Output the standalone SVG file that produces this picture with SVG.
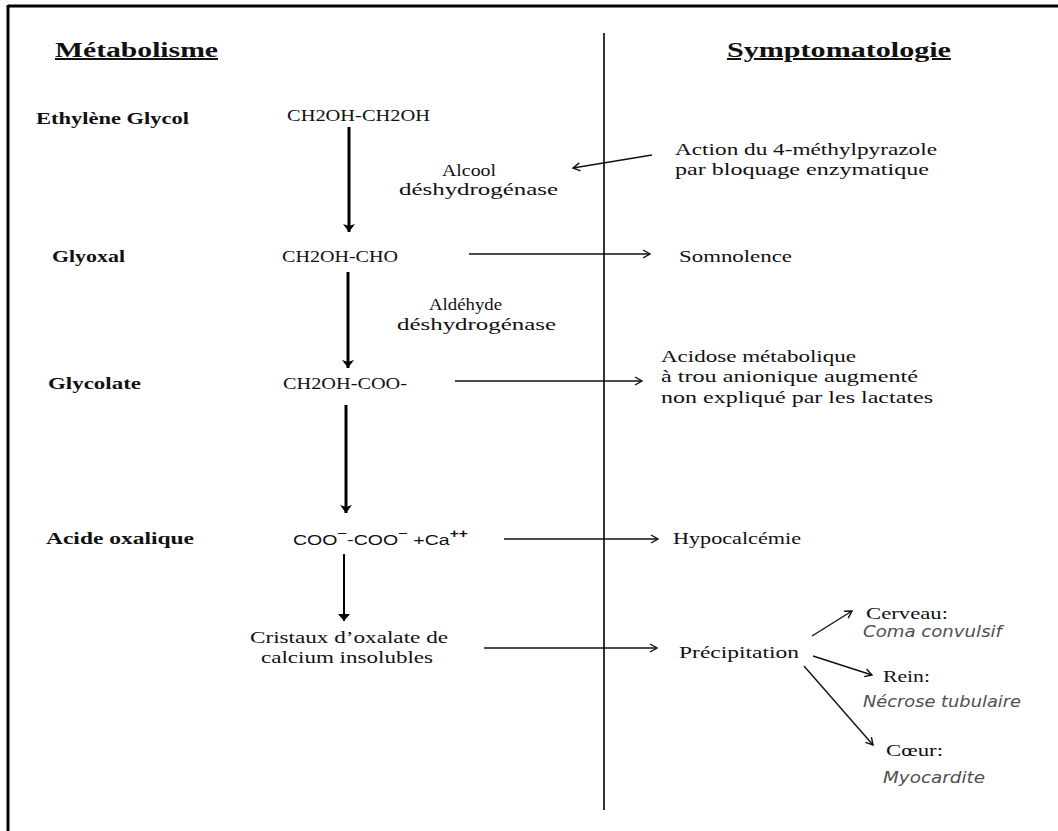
<svg xmlns="http://www.w3.org/2000/svg" width="1058" height="831" viewBox="0 0 1058 831">
<style>
.t{font-family:"Liberation Serif","DejaVu Serif",serif;font-size:17px;fill:#111}
.b{font-family:"Liberation Serif","DejaVu Serif",serif;font-size:17px;font-weight:bold;fill:#111}
.h{font-family:"Liberation Serif","DejaVu Serif",serif;font-size:20px;font-weight:bold;fill:#111;text-decoration:underline}
.i{font-family:"DejaVu Sans","Liberation Sans",sans-serif;font-size:15px;font-style:italic;fill:#505050}
.s{font-family:"Liberation Sans","DejaVu Sans",sans-serif;font-size:15px;fill:#111}
.thick{stroke:#000;stroke-width:3;fill:none}
.thin{stroke:#111;stroke-width:1.4;fill:none}
</style>
<defs>
<marker id="mThick" markerUnits="userSpaceOnUse" viewBox="-1 -7 11 14" refX="8" refY="0" markerWidth="11" markerHeight="14" orient="auto">
<path d="M0,-6 L8,0 L0,6 L2,0 z" fill="#000"/>
</marker>
<marker id="mFill" markerUnits="userSpaceOnUse" viewBox="-1 -7 10 14" refX="7" refY="0" markerWidth="10" markerHeight="14" orient="auto">
<path d="M0,-6 L7,0 L0,6 z" fill="#000"/>
</marker>
<marker id="mOpen" markerUnits="userSpaceOnUse" viewBox="-9 -6 11 12" refX="0" refY="0" markerWidth="11" markerHeight="12" orient="auto">
<path d="M-7,-4 L0,0 L-7,4" fill="none" stroke="#111" stroke-width="1.4"/>
</marker>
</defs>
<rect width="1058" height="831" fill="#fff"/>
<g id="frame">
<line x1="8" y1="6" x2="1058" y2="6" stroke="#000" stroke-width="3"/>
<line x1="8" y1="5" x2="8" y2="831" stroke="#000" stroke-width="3"/>
<line x1="604" y1="33" x2="604" y2="810" stroke="#333" stroke-width="2"/>
</g>
<g id="headers">
<text class="h" x="55" y="57" textLength="163" lengthAdjust="spacingAndGlyphs">Métabolisme</text>
<text class="h" x="727" y="57" textLength="224" lengthAdjust="spacingAndGlyphs">Symptomatologie</text>
</g>
<g id="connectors">
<line class="thick" x1="349" y1="127" x2="349" y2="232" marker-end="url(#mThick)"/>
<line class="thick" x1="348" y1="272" x2="348" y2="368" marker-end="url(#mThick)"/>
<line class="thick" x1="346" y1="405" x2="346" y2="513" marker-end="url(#mThick)"/>
<line x1="344" y1="554" x2="344" y2="621" stroke="#000" stroke-width="2" marker-end="url(#mFill)"/>
<line class="thin" x1="652" y1="155" x2="573" y2="168" marker-end="url(#mOpen)"/>
<line class="thin" x1="469" y1="254" x2="650" y2="254" marker-end="url(#mOpen)"/>
<line class="thin" x1="455" y1="381" x2="642" y2="381" marker-end="url(#mOpen)"/>
<line class="thin" x1="504" y1="539" x2="658" y2="539" marker-end="url(#mOpen)"/>
<line class="thin" x1="484" y1="648" x2="657" y2="648" marker-end="url(#mOpen)"/>
<line class="thin" x1="812" y1="636" x2="852" y2="611" marker-end="url(#mOpen)"/>
<line class="thin" x1="813" y1="656" x2="872" y2="675" marker-end="url(#mOpen)"/>
<line class="thin" x1="804" y1="666" x2="873" y2="745" marker-end="url(#mOpen)"/>
</g>
<g id="ethylene-glycol">
<text class="b" x="36" y="124" textLength="153" lengthAdjust="spacingAndGlyphs">Ethylène Glycol</text>
<text class="t" x="287" y="121" textLength="143" lengthAdjust="spacingAndGlyphs">CH2OH-CH2OH</text>
</g>
<g id="alcool-dh">
<text class="t" x="442" y="176" textLength="54" lengthAdjust="spacingAndGlyphs">Alcool</text>
<text class="t" x="399" y="195" textLength="159" lengthAdjust="spacingAndGlyphs">déshydrogénase</text>
</g>
<g id="fomepizole">
<text class="t" x="675" y="155" textLength="262" lengthAdjust="spacingAndGlyphs">Action du 4-méthylpyrazole</text>
<text class="t" x="675" y="175" textLength="254" lengthAdjust="spacingAndGlyphs">par bloquage enzymatique</text>
</g>
<g id="glyoxal">
<text class="b" x="52" y="262" textLength="73" lengthAdjust="spacingAndGlyphs">Glyoxal</text>
<text class="t" x="282" y="262" textLength="116" lengthAdjust="spacingAndGlyphs">CH2OH-CHO</text>
</g>
<g id="somnolence">
<text class="t" x="679" y="262" textLength="113" lengthAdjust="spacingAndGlyphs">Somnolence</text>
</g>
<g id="aldehyde-dh">
<text class="t" x="429" y="310" textLength="73" lengthAdjust="spacingAndGlyphs">Aldéhyde</text>
<text class="t" x="397" y="330" textLength="159" lengthAdjust="spacingAndGlyphs">déshydrogénase</text>
</g>
<g id="glycolate">
<text class="b" x="48" y="389" textLength="93" lengthAdjust="spacingAndGlyphs">Glycolate</text>
<text class="t" x="283" y="389" textLength="124" lengthAdjust="spacingAndGlyphs">CH2OH-COO-</text>
</g>
<g id="acidose">
<text class="t" x="661" y="362" textLength="195" lengthAdjust="spacingAndGlyphs">Acidose métabolique</text>
<text class="t" x="661" y="382" textLength="257" lengthAdjust="spacingAndGlyphs">à trou anionique augmenté</text>
<text class="t" x="661" y="403" textLength="272" lengthAdjust="spacingAndGlyphs">non expliqué par les lactates</text>
</g>
<g id="acide-oxalique">
<text class="b" x="46" y="544" textLength="148" lengthAdjust="spacingAndGlyphs">Acide oxalique</text>
<text class="s" transform="translate(293,545) scale(1.3,1)">COO<tspan dy="-7" font-size="13">−</tspan><tspan dy="7">-COO</tspan><tspan dy="-7" font-size="13">−</tspan><tspan dy="7"> +Ca</tspan><tspan dy="-7" font-size="12" font-weight="bold">++</tspan></text>
</g>
<g id="hypocalcemie">
<text class="t" x="673" y="544" textLength="128" lengthAdjust="spacingAndGlyphs">Hypocalcémie</text>
</g>
<g id="cristaux">
<text class="t" x="250" y="643" textLength="198" lengthAdjust="spacingAndGlyphs">Cristaux d’oxalate de</text>
<text class="t" x="261" y="663" textLength="172" lengthAdjust="spacingAndGlyphs">calcium insolubles</text>
</g>
<g id="precipitation">
<text class="t" x="679" y="658" textLength="120" lengthAdjust="spacingAndGlyphs">Précipitation</text>
</g>
<g id="cerveau">
<text class="t" x="866" y="619" textLength="82" lengthAdjust="spacingAndGlyphs">Cerveau:</text>
<text class="i" x="863" y="637" textLength="139" lengthAdjust="spacingAndGlyphs">Coma convulsif</text>
</g>
<g id="rein">
<text class="t" x="883" y="682" textLength="47" lengthAdjust="spacingAndGlyphs">Rein:</text>
<text class="i" x="863" y="707" textLength="158" lengthAdjust="spacingAndGlyphs">Nécrose tubulaire</text>
</g>
<g id="coeur">
<text class="t" x="886" y="756" textLength="57" lengthAdjust="spacingAndGlyphs">Cœur:</text>
<text class="i" x="883" y="783" textLength="102" lengthAdjust="spacingAndGlyphs">Myocardite</text>
</g>
</svg>
